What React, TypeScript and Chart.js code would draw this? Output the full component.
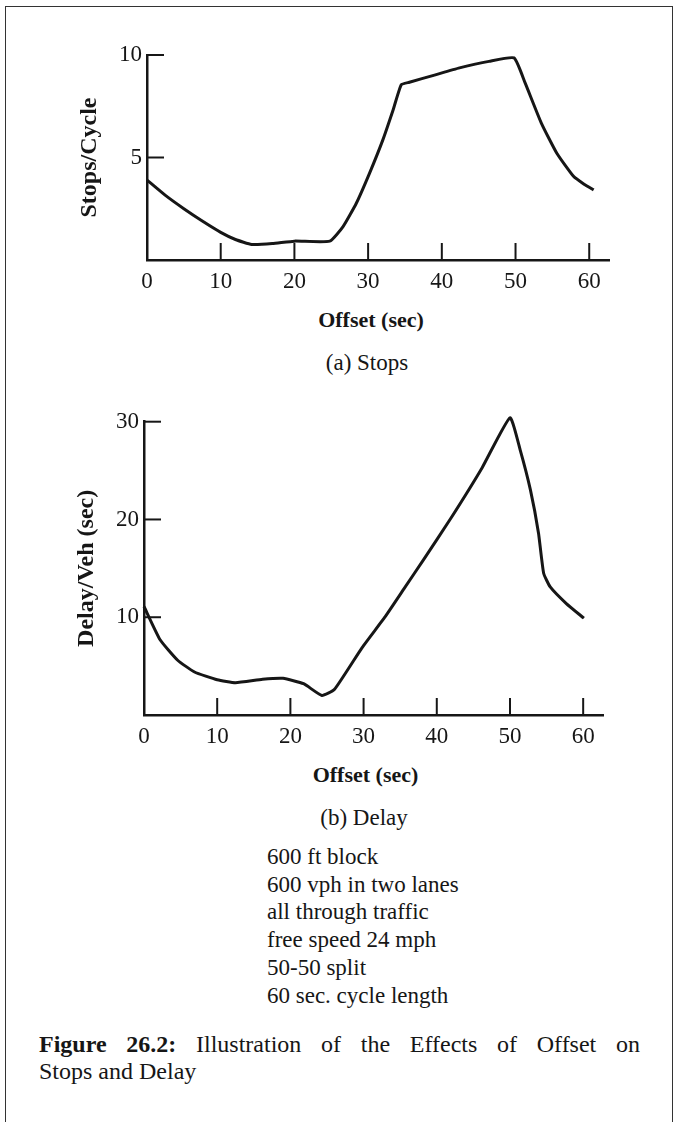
import React, { useEffect, useRef } from "react";
import { Chart, registerables } from "chart.js";

Chart.register(...registerables);

// ---- data ----
const offsetTicks = [0, 10, 20, 30, 40, 50, 60];
const stopsTicks = [5, 10];
const delayTicks = [10, 20, 30];

const stopsOffset = [0, 2.5, 5, 7.5, 10, 12, 14.2, 17, 20, 24.8, 26.6, 28.4, 30.2, 32, 33.4, 34.5, 35.6, 39, 42.4, 46.4, 49.8, 51.3, 53.5, 55.6, 57.9, 59.3, 60.6];
const stopsValues = [3.9, 3.15, 2.5, 1.9, 1.35, 1.0, 0.76, 0.8, 0.92, 0.92, 1.63, 2.77, 4.24, 5.86, 7.33, 8.55, 8.67, 9.02, 9.37, 9.69, 9.86, 8.64, 6.68, 5.21, 4.07, 3.7, 3.42];

const delayOffset = [0, 2.2, 4.6, 6.9, 10, 12.5, 16.2, 19, 21.8, 24.3, 26, 29.8, 32.9, 35.6, 38.2, 41.9, 46.2, 50, 51.4, 52.8, 53.9, 54.6, 55.5, 57.7, 60.1];
const delayValues = [11.1, 7.7, 5.6, 4.4, 3.6, 3.3, 3.65, 3.75, 3.2, 2.0, 2.6, 6.9, 10.0, 13.0, 15.9, 20.1, 25.3, 30.4, 27.1, 23.0, 18.6, 14.5, 13.1, 11.4, 9.9];

const notes = [
  "600 ft block",
  "600 vph in two lanes",
  "all through traffic",
  "free speed 24 mph",
  "50-50 split",
  "60 sec. cycle length",
];

const INK = "#161616";
const SERIF = '"Liberation Serif", "DejaVu Serif", serif';
const X_MAX = 62.75;

const innerTicks = {
  id: "innerTicks",
  afterDraw(chart: any) {
    const { ctx, chartArea, scales } = chart;
    const len = 17;
    ctx.save();
    ctx.strokeStyle = INK;
    ctx.lineWidth = 2;
    scales.x.ticks.forEach((t: any) => {
      if (t.value === 0) return;
      const px = scales.x.getPixelForValue(t.value);
      ctx.beginPath();
      ctx.moveTo(px, chartArea.bottom);
      ctx.lineTo(px, chartArea.bottom - len);
      ctx.stroke();
    });
    scales.y.ticks.forEach((t: any) => {
      if (t.value === 0) return;
      const py = scales.y.getPixelForValue(t.value);
      ctx.beginPath();
      ctx.moveTo(chartArea.left, py);
      ctx.lineTo(chartArea.left + len, py);
      ctx.stroke();
    });
    ctx.restore();
  },
};

type PanelProps = {
  top: number;
  height: number;
  xs: number[];
  ys: number[];
  yTicks: number[];
  yMax: number;
  yTitle: string;
  axisWidth: number;
  padTop: number;
  padRight: number;
  titleCenter: number;
};

function Panel(p: PanelProps) {
  const ref = useRef<HTMLCanvasElement | null>(null);
  useEffect(() => {
    if (!ref.current) return;
    const data = p.xs.map((x, i) => ({ x, y: p.ys[i] }));
    const chart = new Chart(ref.current, {
      type: "line",
      data: {
        datasets: [
          {
            data,
            borderColor: INK,
            borderWidth: 3,
            pointRadius: 0,
            tension: 0.15,
            fill: false,
            clip: false as any,
          },
        ],
      },
      options: {
        responsive: false,
        animation: false,
        devicePixelRatio: 1,
        layout: { padding: { left: 0, top: p.padTop, right: p.padRight, bottom: 0 } },
        plugins: { legend: { display: false }, tooltip: { enabled: false } },
        scales: {
          x: {
            type: "linear",
            min: 0,
            max: X_MAX,
            afterBuildTicks: (s: any) => {
              s.ticks = offsetTicks.map((v) => ({ value: v }));
            },
            afterFit: (s: any) => {
              s.height = 40;
            },
            grid: { display: false, drawTicks: false },
            border: { display: true, color: INK, width: 2.5 },
            ticks: {
              padding: 8,
              color: INK,
              maxRotation: 0,
              autoSkip: false,
              font: { family: SERIF, size: 23 },
              callback: (v: any) => String(v),
            },
          },
          y: {
            type: "linear",
            min: 0,
            max: p.yMax,
            afterBuildTicks: (s: any) => {
              s.ticks = p.yTicks.map((v) => ({ value: v }));
            },
            afterFit: (s: any) => {
              s.width = p.axisWidth;
            },
            grid: { display: false, drawTicks: false },
            border: { display: true, color: INK, width: 2.5 },
            ticks: {
              padding: 5,
              color: INK,
              font: { family: SERIF, size: 23 },
              callback: (v: any) => String(v),
            },
            title: {
              display: true,
              text: p.yTitle,
              color: INK,
              font: { family: SERIF, size: 24, weight: "bold", lineHeight: 1 },
              padding: { top: p.titleCenter - 12, bottom: 0 },
            },
          },
        },
      },
      plugins: [innerTicks],
    } as any);
    return () => chart.destroy();
  }, []);
  return (
    <canvas
      ref={ref}
      width={679}
      height={p.height}
      style={{ position: "absolute", left: 0, top: p.top, width: 679, height: p.height }}
    />
  );
}

const centered = (x: number, y: number): React.CSSProperties => ({
  position: "absolute",
  left: x,
  top: y,
  transform: "translate(-50%, -50%)",
  whiteSpace: "nowrap",
  lineHeight: 1,
});

export default function App() {
  useEffect(() => {
    document.body.style.margin = "0";
  }, []);
  return (
    <div
      style={{
        position: "absolute",
        left: 0,
        top: 0,
        width: 679,
        height: 1122,
        background: "#fff",
        overflow: "hidden",
        fontFamily: SERIF,
        color: INK,
      }}
    >
      <div
        style={{
          position: "absolute",
          left: 5,
          top: 6,
          width: 666,
          height: 1130,
          borderLeft: "1.5px solid #333",
          borderRight: "1.5px solid #333",
          borderTop: "1.5px solid #333",
        }}
      />
      <Panel
        top={0}
        height={300}
        xs={stopsOffset}
        ys={stopsValues}
        yTicks={stopsTicks}
        yMax={10}
        yTitle="Stops/Cycle"
        axisWidth={147}
        padTop={55}
        padRight={69.5}
        titleCenter={90}
      />
      <div style={{ ...centered(371, 320), fontWeight: "bold", fontSize: 22 }}>Offset (sec)</div>
      <div style={{ ...centered(367, 362), fontSize: 23 }}>(a) Stops</div>

      <Panel
        top={380}
        height={375}
        xs={delayOffset}
        ys={delayValues}
        yTicks={delayTicks}
        yMax={30}
        yTitle="Delay/Veh (sec)"
        axisWidth={144}
        padTop={41.7}
        padRight={75.7}
        titleCenter={86.7}
      />
      <div style={{ ...centered(365.5, 775), fontWeight: "bold", fontSize: 22 }}>Offset (sec)</div>
      <div style={{ ...centered(364, 817), fontSize: 23 }}>(b) Delay</div>

      <div
        style={{
          position: "absolute",
          left: 267,
          top: 843,
          fontSize: 23,
          lineHeight: "27.7px",
          whiteSpace: "nowrap",
        }}
      >
        {notes.map((n) => (
          <div key={n}>{n}</div>
        ))}
      </div>

      <div
        style={{
          position: "absolute",
          left: 39,
          top: 1031,
          width: 601,
          fontSize: 24,
          lineHeight: "27px",
        }}
      >
        <div style={{ textAlign: "justify", textAlignLast: "justify" as any, whiteSpace: "normal" }}>
          <b>Figure 26.2:</b> Illustration of the Effects of Offset on
        </div>
        <div>Stops and Delay</div>
      </div>
    </div>
  );
}
